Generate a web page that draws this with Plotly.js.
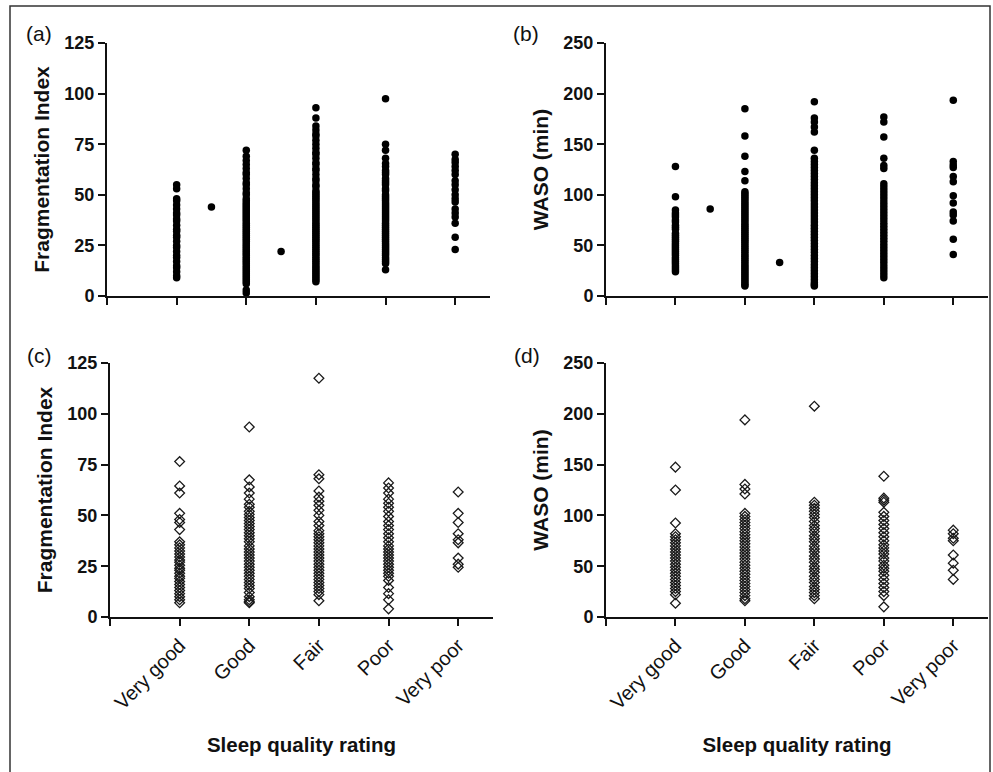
<!DOCTYPE html>
<html>
<head>
<meta charset="utf-8">
<script src="https://cdn.plot.ly/plotly-3.0.1.min.js"></script>
<style>html,body{margin:0;padding:0;background:#fff;}#chart{width:993px;height:772px;}</style>
</head>
<body>
<div id="chart"></div>
<script>
// Categories (x tick labels)
var categories = ["Very good", "Good", "Fair", "Poor", "Very poor"];

// Panel (a): Fragmentation Index, filled circles
var a_veryGood = [55, 53, 48, 47, 45, 43, 41, 40, 38, 37, 35, 33, 32, 30, 29, 27, 25, 24, 22, 20, 19, 17, 15, 14, 12, 10, 9];
var a_good = [72, 69, 67, 65, 63, 61, 60, 58, 56, 55, 53, 51, 50, 48, 47, 46, 45, 44, 43, 42, 41, 40, 39, 38, 37, 36, 35, 34, 33, 32, 31, 30, 29, 28, 27, 26, 25, 24, 23, 22, 21, 20, 19, 18, 17, 16, 15, 14, 13, 12, 11, 10, 9, 8, 7, 6, 3, 1.5];
var a_fair = [93, 88, 84, 82, 80, 79, 77, 75, 73, 71, 70, 68, 66, 65, 63, 62, 60, 58, 57, 55, 54, 52, 51, 50, 49, 48, 47, 46, 45, 44, 43, 42, 41, 40, 39, 38, 37, 36, 35, 34, 33, 32, 31, 30, 29, 28, 27, 26, 25, 24, 23, 22, 21, 20, 19, 18, 17, 16, 15, 14, 13, 12, 11, 10, 9, 8, 7];
var a_poor = [97.5, 75, 72, 68, 65.5, 64, 62, 61, 60, 58, 57, 56, 55, 53, 52, 50, 49, 48, 47, 46, 45, 44, 43, 42, 41, 40, 39, 38, 37, 36, 35, 34, 33, 32, 31, 30, 29, 28, 27, 26, 25, 24, 23, 22, 21, 20, 19, 18, 17, 16, 13];
var a_veryPoor = [70, 67.5, 66, 64, 62, 60, 57, 55, 52.5, 50, 48, 46.5, 43, 41, 39, 36, 29, 23];
var a_betweenX = [0.5, 1.5];
var a_betweenY = [44, 22];

// Panel (b): WASO (min), filled circles
var b_veryGood = [128, 98, 85, 82, 80, 78, 75, 73, 70, 68, 66, 62, 60, 58, 56, 54, 52, 50, 48, 46, 44, 42, 40, 38, 36, 34, 32, 30, 28, 26, 24];
var b_good = [185, 158, 138, 123, 114, 103, 101, 99, 97, 95, 93, 91, 89, 87, 85, 83, 81, 79, 77, 75, 73, 71, 69, 67, 65, 63, 61, 59, 57, 55, 53, 51, 49, 47, 45, 43, 41, 39, 37, 35, 33, 31, 29, 27, 25, 23, 21, 19, 17, 15, 13, 11, 10];
var b_fair = [192, 176, 172, 167, 162, 144, 136, 133, 130, 127, 124, 121, 118, 115, 112, 109, 106, 103, 100, 97, 94, 91, 88, 85, 82, 79, 76, 73, 70, 67, 64, 61, 58, 55, 52, 49, 46, 43, 40, 37, 34, 31, 28, 25, 22, 19, 16, 13, 11, 10];
var b_poor = [177, 172, 157, 136, 129, 126, 111, 108, 105, 102, 99, 96, 93, 90, 87, 84, 81, 78, 75, 72, 69, 66, 63, 60, 57, 54, 51, 48, 45, 42, 39, 36, 33, 30, 27, 24, 21, 18];
var b_veryPoor = [193.5, 133, 129.5, 127, 118, 113, 99, 92, 83, 80, 74, 56, 41];
var b_betweenX = [0.5, 1.5];
var b_betweenY = [86, 33];

// Panel (c): Fragmentation Index, open diamonds
var c_veryGood = [76.5, 64.5, 61, 51, 48, 46.5, 43, 37, 35.5, 34, 32.5, 31, 29.5, 28, 27, 25.5, 24, 23, 21.5, 20, 19, 17.5, 16, 14.5, 13, 11.5, 10, 8.5, 7];
var c_good = [93.5, 67.5, 64, 61, 58, 55.5, 54, 52, 50.5, 49, 47.5, 46, 44.5, 43, 41.5, 40, 38.5, 37, 35, 33.5, 32, 30.5, 29, 27.5, 26, 24.5, 23, 21.5, 20, 18.5, 17, 15.5, 14, 12, 10, 8.5, 7.5, 7];
var c_fair = [117.5, 70, 68, 62, 59, 57, 55, 52.5, 50, 47, 45, 42.5, 41, 39.5, 38, 36.5, 35, 33.5, 32, 30.5, 29, 27.5, 26, 24.5, 23, 21.5, 20, 18.5, 17, 15.5, 14, 12.5, 11, 8];
var c_poor = [66, 63.5, 61, 58, 56, 54, 52, 49.5, 47, 45, 43, 41, 39, 37, 35, 33.5, 32, 30.5, 29, 27.5, 26, 24.5, 23, 21.5, 20, 18, 14.5, 11.5, 8.5, 4];
var c_veryPoor = [61.5, 51, 46.5, 41, 38, 36.5, 29, 26, 24.5];

// Panel (d): WASO (min), open diamonds
var d_veryGood = [147.5, 125, 92.5, 82, 79, 76, 73, 70, 67, 64, 61, 58, 55, 52, 49, 46, 43, 40, 37, 34, 31, 28, 25, 22, 13.5];
var d_good = [194, 130.5, 126, 121, 102, 99, 96, 93, 90, 87, 84, 81, 78, 75, 72, 69, 66, 63, 60, 57, 54, 51, 48, 45, 42, 39, 36, 33, 30, 27, 24, 21, 18, 16];
var d_fair = [207.5, 113, 110, 107, 104, 101, 98, 94, 90, 87, 84, 80, 77, 74, 70, 67, 64, 60, 57, 54, 50, 47, 44, 40, 37, 34, 30, 27, 24, 21, 18];
var d_poor = [138.5, 117, 115, 113, 103, 99, 95, 91, 87, 83, 79, 75, 71, 68, 65, 62, 58, 55, 51, 48, 45, 41, 37, 33, 29, 25, 21, 10];
var d_veryPoor = [85.5, 82, 77.5, 75, 61, 53, 46, 37];

// y tick values
var fiTicks = [0, 25, 50, 75, 100, 125];
var wasoTicks = [0, 50, 100, 150, 200, 250];

function columns(groups) {
  var xs = [], ys = [];
  groups.forEach(function (g, i) {
    g.forEach(function (v) { xs.push(i); ys.push(v); });
  });
  return {x: xs, y: ys};
}

var W = 993, H = 772;
function px(v) { return v / W; }
function py(v) { return 1 - v / H; }

var FONT = "Liberation Sans, Arial, Helvetica, sans-serif";
var INK = "#111";

var dotMarker = {symbol: "circle", size: 7.5, color: "#000", line: {width: 0}};
var diaMarker = {symbol: "diamond-open", size: 7.5, color: "#1a1a1a", line: {width: 1.3, color: "#1a1a1a"}};

var ca = columns([a_veryGood, a_good, a_fair, a_poor, a_veryPoor]);
var cb = columns([b_veryGood, b_good, b_fair, b_poor, b_veryPoor]);
var cc = columns([c_veryGood, c_good, c_fair, c_poor, c_veryPoor]);
var cd = columns([d_veryGood, d_good, d_fair, d_poor, d_veryPoor]);

var traces = [
  {x: ca.x, y: ca.y, xaxis: "x", yaxis: "y", type: "scatter", mode: "markers", marker: dotMarker, cliponaxis: false, hoverinfo: "y"},
  {x: a_betweenX, y: a_betweenY, xaxis: "x", yaxis: "y", type: "scatter", mode: "markers", marker: dotMarker, cliponaxis: false, hoverinfo: "y"},
  {x: cb.x, y: cb.y, xaxis: "x2", yaxis: "y2", type: "scatter", mode: "markers", marker: dotMarker, cliponaxis: false, hoverinfo: "y"},
  {x: b_betweenX, y: b_betweenY, xaxis: "x2", yaxis: "y2", type: "scatter", mode: "markers", marker: dotMarker, cliponaxis: false, hoverinfo: "y"},
  {x: cc.x, y: cc.y, xaxis: "x3", yaxis: "y3", type: "scatter", mode: "markers", marker: diaMarker, cliponaxis: false, hoverinfo: "y"},
  {x: cd.x, y: cd.y, xaxis: "x4", yaxis: "y4", type: "scatter", mode: "markers", marker: diaMarker, cliponaxis: false, hoverinfo: "y"}
];

var xTickVals = [-1, 0, 1, 2, 3, 4];
var xTickText = [""].concat(categories);

function xAxis(domain, anchor, showLabels) {
  var ax = {
    domain: domain, anchor: anchor, range: [-1, 4.5],
    tickmode: "array", tickvals: xTickVals, ticktext: xTickText,
    showticklabels: showLabels, tickangle: -45,
    tickfont: {family: FONT, size: 20, color: INK},
    showline: true, linecolor: INK, linewidth: 2,
    ticks: "outside", ticklen: 7, tickwidth: 2, tickcolor: INK,
    showgrid: false, zeroline: false, fixedrange: true
  };
  if (showLabels) {
    ax.title = {text: "Sleep quality rating", font: {family: FONT, size: 20.5, color: INK, weight: "bold"}, standoff: 25};
  }
  return ax;
}
function yAxis(domain, anchor, range, ticks, title) {
  return {
    domain: domain, anchor: anchor, range: range,
    tickmode: "array", tickvals: ticks,
    tickfont: {family: FONT, size: 18, color: INK, weight: "bold"},
    showline: true, linecolor: INK, linewidth: 2,
    ticks: "outside", ticklen: 7, tickwidth: 2, tickcolor: INK,
    showgrid: false, zeroline: false, fixedrange: true,
    title: {text: title, font: {family: FONT, size: 21, color: INK, weight: "bold"}, standoff: 9}
  };
}

function panelLabel(text, x, y) {
  return {text: text, x: px(x), y: py(y), xref: "paper", yref: "paper", showarrow: false,
          xanchor: "center", yanchor: "middle", font: {family: FONT, size: 21, color: INK}};
}

var layout = {
  width: W, height: H,
  margin: {l: 0, r: 0, t: 0, b: 0},
  paper_bgcolor: "#fff", plot_bgcolor: "rgba(0,0,0,0)",
  showlegend: false,
  xaxis: xAxis([px(107), px(490)], "y", false),
  yaxis: yAxis([py(296), py(43)], "x", [0, 125], fiTicks, "Fragmentation Index"),
  xaxis2: xAxis([px(606), px(988)], "y2", false),
  yaxis2: yAxis([py(296), py(43)], "x2", [0, 250], wasoTicks, "WASO (min)"),
  xaxis3: xAxis([px(110), px(493)], "y3", true),
  yaxis3: yAxis([py(617), py(363)], "x3", [0, 125], fiTicks, "Fragmentation Index"),
  xaxis4: xAxis([px(606), px(988)], "y4", true),
  yaxis4: yAxis([py(617), py(363)], "x4", [0, 250], wasoTicks, "WASO (min)"),
  annotations: [
    panelLabel("(a)", 39, 33),
    panelLabel("(b)", 526, 33),
    panelLabel("(c)", 39, 355),
    panelLabel("(d)", 527, 355)
  ],
  shapes: [
    {type: "rect", xref: "paper", yref: "paper", x0: px(10), x1: px(990), y0: -0.05, y1: py(6),
     line: {color: "#333", width: 1.5}, fillcolor: "rgba(0,0,0,0)", layer: "below"}
  ]
};

Plotly.newPlot("chart", traces, layout, {displayModeBar: false, staticPlot: true});
</script>
</body>
</html>
